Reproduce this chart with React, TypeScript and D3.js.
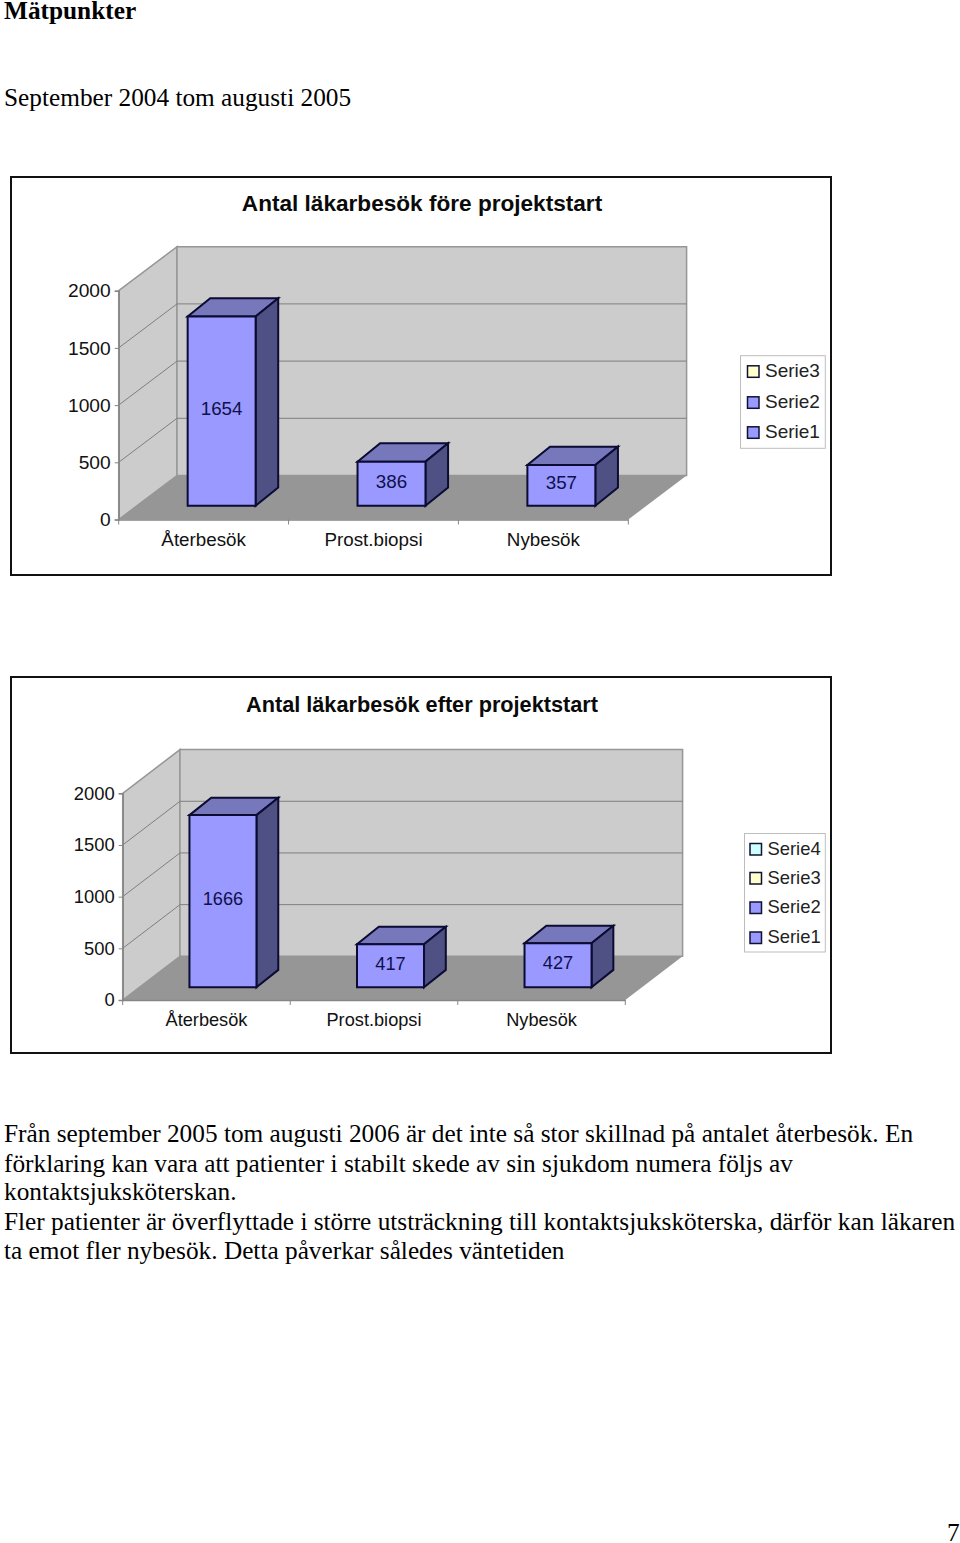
import * as d3 from "d3";
import { useEffect, useRef } from "react";

const categories = ["Återbesök", "Prost.biopsi", "Nybesök"];
const valuesBefore = [1654, 386, 357];
const valuesAfter = [1666, 417, 427];
const yTicks = [0, 500, 1000, 1500, 2000];
const legendBefore = ["Serie3", "Serie2", "Serie1"];
const legendAfter = ["Serie4", "Serie3", "Serie2", "Serie1"];
const legendColorsBefore = ["#ffffcc", "#9999ff", "#9999ff"];
const legendColorsAfter = ["#ccffff", "#ffffcc", "#9999ff", "#9999ff"];

const bodyLines = [
  "Från september 2005 tom augusti 2006 är det inte så stor skillnad på antalet återbesök. En",
  "förklaring kan vara att patienter i stabilt skede av sin sjukdom numera följs av",
  "kontaktsjuksköterskan.",
  "Fler patienter är överflyttade i större utsträckning till kontaktsjuksköterska, därför kan läkaren",
  "ta emot fler nybesök. Detta påverkar således väntetiden",
];
const bodyBaselines = [1142, 1171.5, 1200, 1230, 1258.5];

const SANS = "'Liberation Sans', Arial, sans-serif";
const SERIF = "'Liberation Serif', 'Times New Roman', serif";
const BODY_SIZE = 25.3;

type ChartOpts = {
  title: string;
  titleX: number;
  titleY: number;
  titleSize: number;
  values: number[];
  legend: string[];
  legendColors: string[];
  frame: [number, number, number, number];
  x0: number;
  x1: number;
  y0: number;
  y2000: number;
  depth: [number, number];
  barShift: [number, number];
  barDepth: [number, number];
  legendBox: [number, number, number, number];
  legendY: number[];
  legendX: number;
  fontSize: number;
  tickSize: number;
  labelY: number;
};

const chartBefore: ChartOpts = {
  title: "Antal läkarbesök före projektstart",
  titleX: 422,
  titleY: 211,
  titleSize: 22.6,
  values: valuesBefore,
  legend: legendBefore,
  legendColors: legendColorsBefore,
  frame: [11, 177, 831, 575],
  x0: 118.7,
  x1: 628.3,
  y0: 519.5,
  y2000: 290.7,
  depth: [58.3, -44],
  barShift: [18, -13.7],
  barDepth: [22.6, -18.3],
  legendBox: [740.5, 355.7, 825.3, 448.3],
  legendY: [371.3, 402.3, 432.3],
  legendX: 765,
  fontSize: 18.8,
  tickSize: 19.2,
  labelY: 546,
};

const chartAfter: ChartOpts = {
  title: "Antal läkarbesök efter projektstart",
  titleX: 422,
  titleY: 712,
  titleSize: 21.7,
  values: valuesAfter,
  legend: legendAfter,
  legendColors: legendColorsAfter,
  frame: [11, 677, 831, 1053],
  x0: 122.7,
  x1: 625.3,
  y0: 1000,
  y2000: 793.3,
  depth: [57.3, -43.7],
  barShift: [16.5, -12.7],
  barDepth: [21.8, -17.4],
  legendBox: [744.5, 833.5, 825.3, 952],
  legendY: [849, 878, 907.5, 937.5],
  legendX: 767.5,
  fontSize: 18.2,
  tickSize: 18.4,
  labelY: 1025.5,
};

function drawChart(root: d3.Selection<SVGSVGElement, unknown, null, undefined>, o: ChartOpts) {
  const g = root.append("g").attr("font-family", SANS).attr("font-size", o.fontSize);
  const [dx, dy] = o.depth;

  const x = d3.scaleBand().domain(categories).range([o.x0, o.x1]);
  const y = d3.scaleLinear().domain([0, 2000]).range([o.y0, o.y2000]);

  // frame
  g.append("rect")
    .attr("x", o.frame[0])
    .attr("y", o.frame[1])
    .attr("width", o.frame[2] - o.frame[0])
    .attr("height", o.frame[3] - o.frame[1])
    .attr("fill", "#fff")
    .attr("stroke", "#111")
    .attr("stroke-width", 2);

  g.append("text")
    .attr("x", o.titleX)
    .attr("y", o.titleY)
    .attr("text-anchor", "middle")
    .attr("font-size", o.titleSize)
    .attr("font-weight", "bold")
    .attr("fill", "#0a0a0a")
    .text(o.title);

  const poly = (pts: [number, number][], fill: string, stroke = "none", sw = 0) =>
    g.append("path")
      .attr("d", d3.line()(pts) + "Z")
      .attr("fill", fill)
      .attr("stroke", stroke)
      .attr("stroke-width", sw)
      .attr("stroke-linejoin", "miter");

  const top = y(2000);
  const base = y(0);

  // side wall, back wall, floor
  poly([[o.x0, base], [o.x0 + dx, base + dy], [o.x0 + dx, top + dy], [o.x0, top]], "#cccccc", "#969696", 1.5);
  poly([[o.x0 + dx, base + dy], [o.x1 + dx, base + dy], [o.x1 + dx, top + dy], [o.x0 + dx, top + dy]], "#cccccc", "#969696", 1.5);
  poly([[o.x0, base], [o.x1, base], [o.x1 + dx, base + dy], [o.x0 + dx, base + dy]], "#969696");

  // gridlines on both walls
  yTicks.filter((t) => t > 0 && t < 2000).forEach((t) => {
    g.append("path")
      .attr("d", d3.line()([[o.x0, y(t)], [o.x0 + dx, y(t) + dy], [o.x1 + dx, y(t) + dy]]))
      .attr("fill", "none")
      .attr("stroke", "#7f7f7f")
      .attr("stroke-width", 1);
  });

  // axes
  const yAxis = g.append("g")
    .attr("transform", `translate(${o.x0},0)`)
    .call(d3.axisLeft(y).tickValues(yTicks).tickSize(4).tickPadding(4).tickFormat(d3.format("d")));
  yAxis.select(".domain").attr("stroke", "#868686").attr("stroke-width", 1.5);
  yAxis.selectAll(".tick line").attr("stroke", "#868686");
  yAxis.selectAll("text").attr("font-family", SANS).attr("font-size", o.tickSize).attr("fill", "#111");

  const xAxis = g.append("g")
    .attr("transform", `translate(0,${base})`)
    .call(d3.axisBottom(x).tickSize(0).tickPadding(0));
  xAxis.select(".domain").attr("stroke", "#868686").attr("stroke-width", 1.5);
  xAxis.selectAll("text")
    .attr("font-family", SANS)
    .attr("font-size", o.fontSize)
    .attr("fill", "#111")
    .attr("dy", null)
    .attr("y", o.labelY - base);

  // ticks sit on the band edges
  [...categories.map((c) => x(c) ?? 0), o.x1].forEach((tx) => {
    g.append("line")
      .attr("x1", tx)
      .attr("x2", tx)
      .attr("y1", base)
      .attr("y2", base + 5)
      .attr("stroke", "#868686");
  });

  // 3d bars
  const bw = x.bandwidth() * 0.4;
  const [bdx, bdy] = o.barDepth;
  o.values.forEach((v, i) => {
    const left = (x(categories[i]) ?? 0) + x.bandwidth() * 0.3 + o.barShift[0];
    const right = left + bw;
    const b = base + o.barShift[1];
    const t = b - (base - y(v));
    poly([[left, t], [right, t], [right + bdx, t + bdy], [left + bdx, t + bdy]], "#7777bb", "#0b0b33", 2);
    poly([[right, b], [right + bdx, b + bdy], [right + bdx, t + bdy], [right, t]], "#4f5084", "#0b0b33", 2);
    poly([[left, b], [right, b], [right, t], [left, t]], "#9999ff", "#0b0b33", 2);
    g.append("text")
      .attr("x", (left + right) / 2)
      .attr("y", (b + t) / 2 + 4)
      .attr("text-anchor", "middle")
      .attr("fill", "#10104a")
      .text(String(v));
  });

  // legend
  const [lx0, ly0, lx1, ly1] = o.legendBox;
  g.append("rect")
    .attr("x", lx0)
    .attr("y", ly0)
    .attr("width", lx1 - lx0)
    .attr("height", ly1 - ly0)
    .attr("fill", "#fff")
    .attr("stroke", "#bdbdbd")
    .attr("stroke-width", 1);
  o.legend.forEach((name, i) => {
    g.append("rect")
      .attr("x", o.legendX - 17.5)
      .attr("y", o.legendY[i] - 5.5)
      .attr("width", 11.5)
      .attr("height", 11.5)
      .attr("fill", o.legendColors[i])
      .attr("stroke", "#111133")
      .attr("stroke-width", 1.5);
    g.append("text")
      .attr("x", o.legendX)
      .attr("y", o.legendY[i] + 5.5)
      .attr("font-size", o.fontSize + 0.2)
      .attr("fill", "#222")
      .text(name);
  });
}

export default function App() {
  const ref = useRef<SVGSVGElement>(null);

  useEffect(() => {
    if (!ref.current) return;
    const svg = d3.select(ref.current);
    svg.selectAll("*").remove();

    svg.append("text")
      .attr("x", 4)
      .attr("y", 18.5)
      .attr("font-family", SERIF)
      .attr("font-size", BODY_SIZE)
      .attr("font-weight", "bold")
      .attr("fill", "#000")
      .text("Mätpunkter");

    svg.append("text")
      .attr("x", 4)
      .attr("y", 105.5)
      .attr("font-family", SERIF)
      .attr("font-size", BODY_SIZE)
      .attr("fill", "#000")
      .text("September 2004 tom augusti 2005");

    drawChart(svg, chartBefore);
    drawChart(svg, chartAfter);

    svg.selectAll("text.body")
      .data(bodyLines)
      .enter()
      .append("text")
      .attr("class", "body")
      .attr("x", 4)
      .attr("y", (_, i) => bodyBaselines[i])
      .attr("font-family", SERIF)
      .attr("font-size", BODY_SIZE)
      .attr("fill", "#000")
      .text((d) => d);

    svg.append("text")
      .attr("x", 947)
      .attr("y", 1541)
      .attr("font-family", SERIF)
      .attr("font-size", BODY_SIZE)
      .attr("fill", "#000")
      .text("7");
  }, []);

  return (
    <svg
      ref={ref}
      width={960}
      height={1543}
      style={{ position: "absolute", left: 0, top: 0, display: "block", background: "#fff" }}
    />
  );
}
